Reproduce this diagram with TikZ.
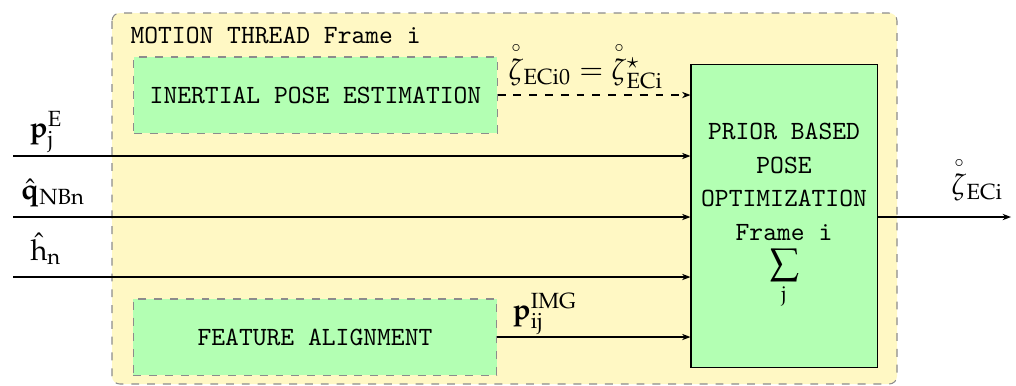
\documentclass[tikz,border=0pt]{standalone}
\usepackage{amsmath}
\usepackage{mathpazo}
\usetikzlibrary{arrows.meta}
\definecolor{ylw}{RGB}{255,248,196}
\definecolor{grn}{RGB}{179,255,179}
\definecolor{dgray}{RGB}{140,140,140}
\newcommand{\rz}{\smash[t]{\overset{\scriptscriptstyle\circ}{\zeta}}\vphantom{\zeta}}
\begin{document}
\begin{tikzpicture}[x=0.38pt,y=-0.38pt,
  thread/.style={draw=dgray,dashed,fill=ylw,rounded corners=3pt,line width=0.4pt},
  subbox/.style={draw=dgray,dashed,fill=grn,font=\ttfamily,inner sep=0pt,minimum width=138pt,minimum height=28.9pt},
  mainbox/.style={draw=black,fill=grn,inner sep=0pt,align=center,font=\ttfamily\fontsize{10}{12.7}\selectfont,minimum width=70.7pt,minimum height=114.8pt},
  arr/.style={-{Stealth[length=3.2pt,width=2.4pt]},line width=0.45pt},
  lbl/.style={inner sep=0pt,font=\fontsize{11}{13.5}\selectfont}]
\useasboundingbox (0,0) rectangle (1016,385);
\draw[thread] (112,13) rectangle (897,384);
\node[anchor=base west,font=\ttfamily,inner sep=0pt] (title) at (130,43) {MOTION THREAD Frame i};
\node[subbox] (ine) at (315.5,95) {INERTIAL POSE ESTIMATION};
\node[subbox] (fea) at (315,337) {FEATURE ALIGNMENT};
\node[mainbox] (pri) at (784,216) {PRIOR BASED\\POSE\\OPTIMIZATION\\Frame i\\[-0.5pt]$\displaystyle\sum_{\mathrm{j}}$};
% inputs
\coordinate (in1) at (13,156);
\coordinate (in2) at (13,217);
\coordinate (in3) at (13,277);
\draw[arr] (in1) -- (in1 -| pri.west);
\draw[arr] (in2) -- (in2 -| pri.west);
\draw[arr] (in3) -- (in3 -| pri.west);
\node[lbl,anchor=base] (lp) at (46,137) {$\mathbf{p}_{\mathrm{j}}^{\mathrm{E}}$};
\node[lbl,anchor=base] (lq) at (53,199) {$\hat{\mathbf{q}}_{\mathrm{NBn}}$};
\node[lbl,anchor=base] (lh) at (46,260) {$\hat{\mathrm{h}}_{\mathrm{n}}$};
% internal
\draw[arr,dashed] (ine.east) -- (ine.east -| pri.west);
\node[lbl,anchor=base west] (lz) at (508,79) {$\rz_{\mathrm{ECi0}}=\rz^{\star}_{\mathrm{ECi}}$};
\draw[arr] (fea.east) -- (fea.east -| pri.west);
\node[lbl,anchor=base west] (lpi) at (512,319) {$\mathbf{p}_{\mathrm{ij}}^{\mathrm{IMG}}$};
% output
\coordinate (out) at (1011,217);
\draw[arr] (pri.east |- out) -- (out);
\node[lbl,anchor=base west] (lo) at (951,194) {$\rz_{\mathrm{ECi}}$};
\end{tikzpicture}
\end{document}
